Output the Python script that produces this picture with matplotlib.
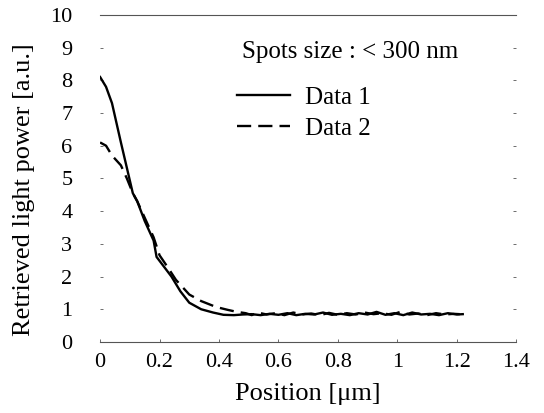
import matplotlib.pyplot as plt
import numpy as np

plt.rcParams['font.family'] = ['Liberation Serif', 'DejaVu Serif']

# Data 1 (solid)
x1 = [0.0, 0.02, 0.04, 0.07, 0.11, 0.125, 0.15, 0.18, 0.19, 0.215, 0.24, 0.27, 0.30, 0.34, 0.38, 0.415,
      0.45, 0.48, 0.51, 0.54, 0.57, 0.60, 0.63, 0.66, 0.69, 0.72, 0.75, 0.78, 0.81, 0.84, 0.87,
      0.90, 0.93, 0.96, 0.99, 1.02, 1.05, 1.08, 1.11, 1.14, 1.17, 1.2, 1.22]
y1 = [8.1, 7.8, 7.3, 6.1, 4.55, 4.3, 3.7, 3.1, 2.6, 2.3, 2.0, 1.55, 1.2, 1.0, 0.9, 0.83,
      0.82, 0.84, 0.85, 0.82, 0.86, 0.83, 0.88, 0.82, 0.86, 0.84, 0.9, 0.83, 0.86, 0.82, 0.88,
      0.84, 0.92, 0.83, 0.88, 0.82, 0.9, 0.84, 0.86, 0.82, 0.88, 0.84, 0.85]

# Data 2 (dashed)
x2 = [0.0, 0.02, 0.04, 0.07, 0.09, 0.11, 0.125, 0.15, 0.18, 0.20, 0.23, 0.255, 0.28, 0.30, 0.34, 0.39,
      0.43, 0.46, 0.49, 0.51, 0.53, 0.56, 0.59, 0.62, 0.65, 0.68, 0.71, 0.74, 0.77, 0.80, 0.83,
      0.86, 0.89, 0.92, 0.95, 0.98, 1.01, 1.04, 1.07, 1.10, 1.13, 1.16, 1.19, 1.21]
y2 = [6.1, 6.0, 5.7, 5.4, 5.0, 4.55, 4.3, 3.8, 3.2, 2.65, 2.25, 1.9, 1.65, 1.45, 1.25, 1.07,
      0.98, 0.92, 0.88, 0.82, 0.9, 0.84, 0.88, 0.82, 0.9, 0.84, 0.87, 0.82, 0.89, 0.83, 0.88,
      0.84, 0.9, 0.85, 0.88, 0.83, 0.92, 0.84, 0.87, 0.82, 0.88, 0.84, 0.86, 0.85]

xticks = [0, 0.2, 0.4, 0.6, 0.8, 1, 1.2, 1.4]
xtick_labels = ['0', '0.2', '0.4', '0.6', '0.8', '1', '1.2', '1.4']
yticks = list(range(0, 11))

fig = plt.figure(figsize=(5.44, 4.13), dpi=100)
ax = fig.add_axes([0.184, 0.172, 0.765, 0.792])

ax.plot(x1, y1, color='black', linewidth=1.7, label='Data 1')
ax.plot(x2, y2, color='black', linewidth=1.7, linestyle=(0, (6, 3)), label='Data 2')

ax.set_xlim(0, 1.4)
ax.set_ylim(0, 10)
ax.set_xticks(xticks)
ax.set_xticklabels(xtick_labels)
ax.set_yticks(yticks)

ax.spines['left'].set_visible(False)
ax.spines['right'].set_visible(False)
ax.spines['top'].set_color('#555555')
ax.spines['bottom'].set_color('#555555')
ax.spines['top'].set_linewidth(0.8)
ax.spines['bottom'].set_linewidth(0.8)

ax.tick_params(axis='both', which='both', labelsize=16, color='#555555', width=0.6, length=2.5)
ax.tick_params(axis='y', right=True, direction='in', pad=20)
ax.tick_params(axis='x', direction='in', pad=8)

ax.set_xlabel('Position [μm]', fontsize=19, labelpad=8)
ax.set_ylabel('Retrieved light power [a.u.]', fontsize=19)
ax.yaxis.set_label_coords(-0.157, 0.465)

# legend title drawn as separate text
ax.text(0.341, 0.887, 'Spots size : < 300 nm', transform=ax.transAxes,
        fontsize=18, ha='left', va='center')
leg = ax.legend(loc='upper left', bbox_to_anchor=(0.305, 0.811),
                frameon=False, fontsize=18, handlelength=2.1,
                handletextpad=0.6, labelspacing=0.32, borderaxespad=0.0)

fig.savefig('out.png', dpi=100)
